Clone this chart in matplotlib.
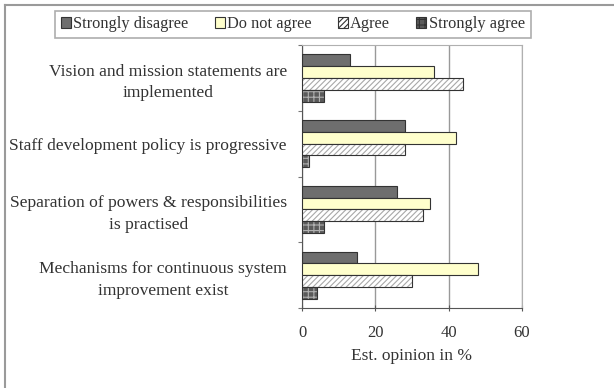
import numpy as np
import matplotlib
matplotlib.use("Agg")
import matplotlib.pyplot as plt
from matplotlib.patches import Rectangle

plt.rcParams['font.family'] = ['Liberation Serif', 'DejaVu Serif']
plt.rcParams['hatch.linewidth'] = 0.8

# data (percent)
categories = [
    "Vision and mission statements are\nimplemented",
    "Staff development policy is progressive",
    "Separation of powers & responsibilities\nis practised",
    "Mechanisms for continuous system\nimprovement exist",
]
series_names = ["Strongly disagree", "Do not agree", "Agree", "Strongly agree"]
strongly_disagree = [13, 28, 26, 15]
do_not_agree = [36, 42, 35, 48]
agree = [44, 28, 33, 30]
strongly_agree = [6, 2, 6, 4]

values = [strongly_disagree, do_not_agree, agree, strongly_agree]
faces = ['#6e6e6e', '#ffffcc', 'white', '#5a5a5a']
hatches = [None, None, '//////', '+++']
hatch_cols = [None, None, '#a8a8a8', '#b0b0b0']

fig = plt.figure(figsize=(6.14, 3.88), dpi=100)
ax = fig.add_axes([0.492, 0.206, 0.358, 0.678])

# figure border (top and left only, as in the source)
fig.add_artist(plt.Line2D([0.008, 1.0], [0.987, 0.987], color='#9a9a9a', lw=1.5, transform=fig.transFigure))
fig.add_artist(plt.Line2D([0.008, 0.008], [0.0, 0.987], color='#9a9a9a', lw=1.5, transform=fig.transFigure))

y = np.arange(len(categories))
h = 0.18
offsets = [-0.27, -0.09, 0.09, 0.27]
handles = []
for i, vals in enumerate(values):
    if hatches[i]:
        ax.barh(y + offsets[i], vals, height=h, color=faces[i], hatch=hatches[i],
                edgecolor=hatch_cols[i], linewidth=0, zorder=3)
        ax.barh(y + offsets[i], vals, height=h, fill=False, edgecolor='#333333',
                linewidth=0.8, zorder=4)
        handles.append(Rectangle((0, 0), 1, 1, facecolor=faces[i], hatch=hatches[i],
                                 edgecolor='#333333', linewidth=0.8))
    else:
        ax.barh(y + offsets[i], vals, height=h, color=faces[i], edgecolor='#333333',
                linewidth=0.8, zorder=3)
        handles.append(Rectangle((0, 0), 1, 1, facecolor=faces[i], edgecolor='#333333',
                                 linewidth=0.8))

ax.set_xlim(0, 60)
ax.set_ylim(len(categories) - 0.5, -0.5)
ax.set_xticks([0, 20, 40, 60])
ax.tick_params(axis='x', labelsize=12, length=4, direction='inout', color='#555555',
               labelcolor='#333333', pad=10)
ax.xaxis.grid(True, color='#999999', linewidth=1)
ax.set_axisbelow(True)

# category labels at centres, ticks at boundaries
ax.set_yticks(np.arange(len(categories) + 1) - 0.5)
ax.set_yticklabels([])
ax.set_yticks(y, minor=True)
ax.set_yticklabels(categories, minor=True, fontsize=12.6, color='#333333')
ax.tick_params(axis='y', which='minor', length=0, pad=11)
ax.tick_params(axis='y', which='major', length=3, color='#777777')
for lab in ax.get_yticklabels(minor=True):
    lab.set_multialignment('center')
    lab.set_linespacing(1.45)

for s in ['top', 'right']:
    ax.spines[s].set_color('#b0b0b0')
ax.spines['left'].set_color('#555555')
ax.spines['bottom'].set_color('#555555')

ax.set_xlabel("Est. opinion in %", fontsize=12.5, color='#333333', labelpad=5)

leg = fig.legend(handles, series_names, loc='center', bbox_to_anchor=(0.477, 0.937),
                 ncol=4, fontsize=11.8, frameon=True, fancybox=False, shadow=False,
                 handlelength=0.6, handleheight=0.6, handletextpad=0.15,
                 columnspacing=1.6, borderpad=0.35, labelcolor='#333333')
leg.get_frame().set_edgecolor('#999999')
leg.get_frame().set_linewidth(1.2)

fig.savefig("out.png", dpi=100)
